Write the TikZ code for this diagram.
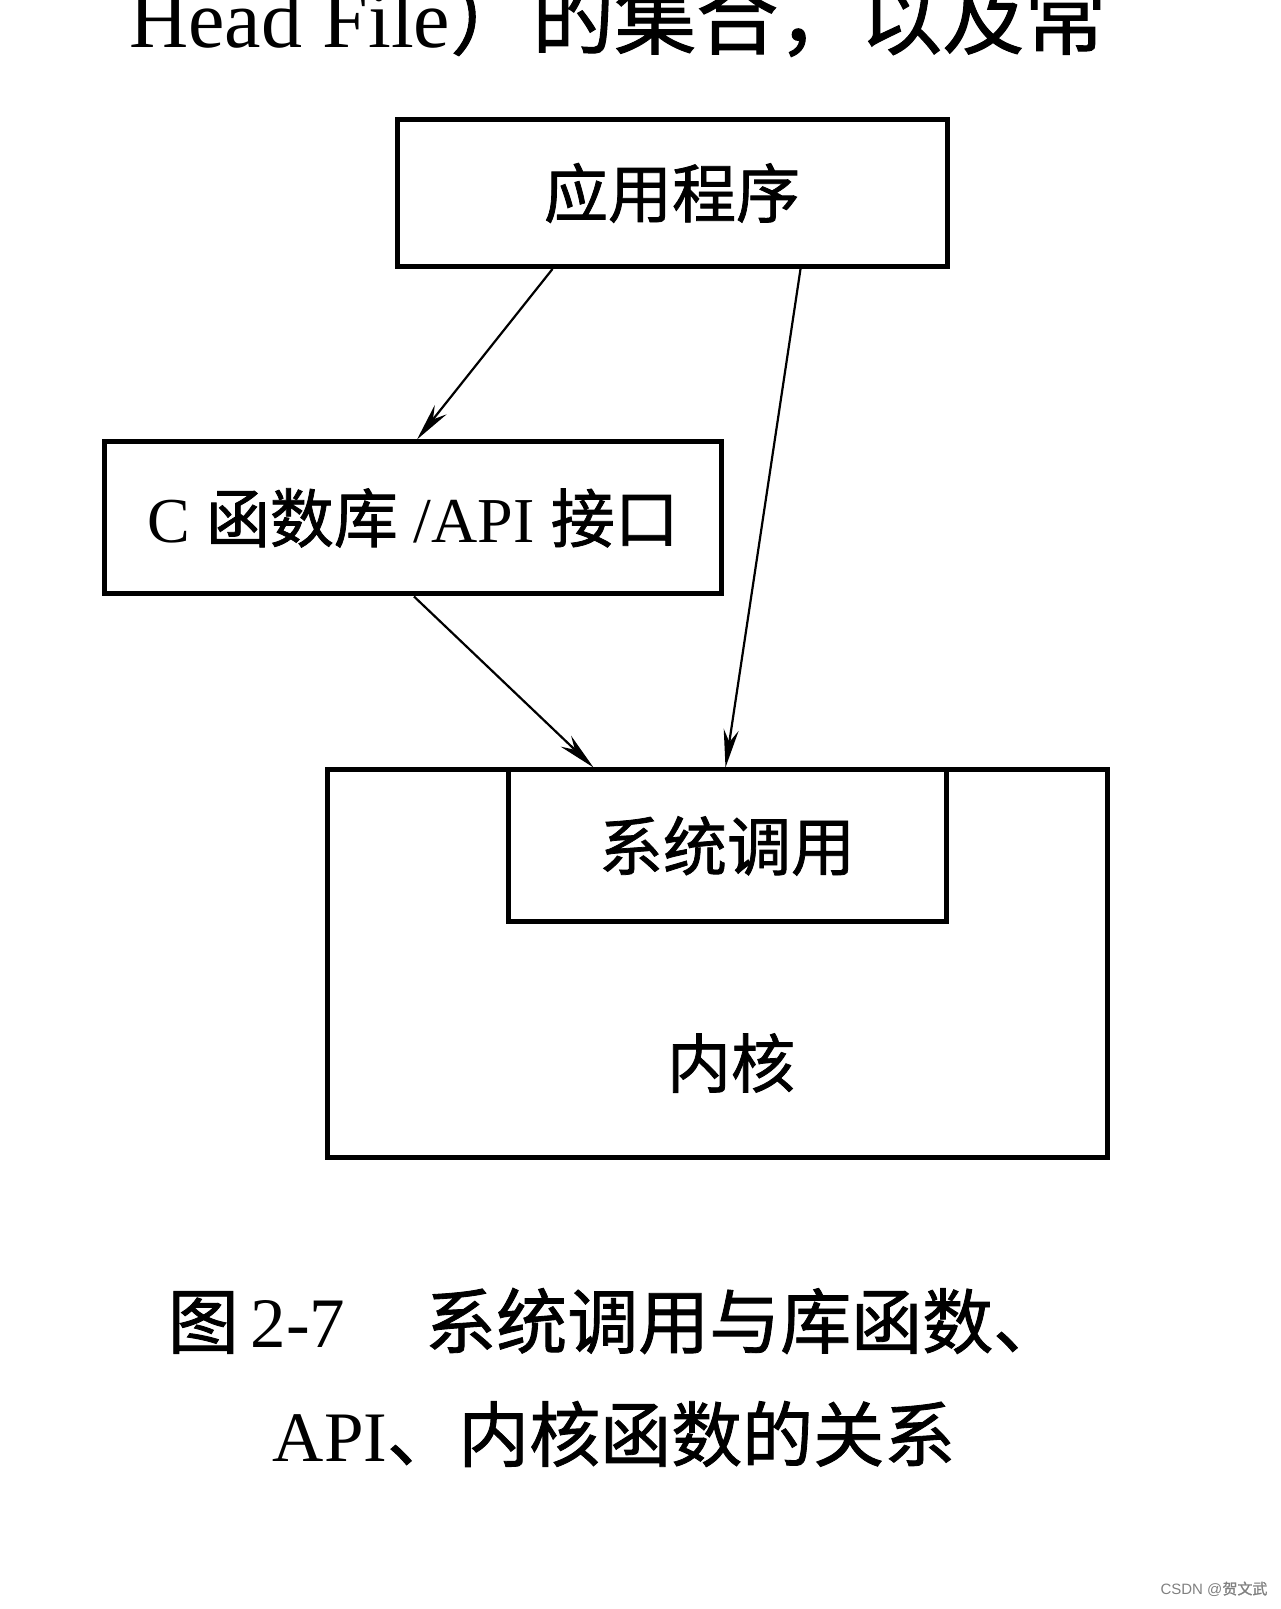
\documentclass[tikz,border=0pt]{standalone}
\usepackage{fontspec}
\setmainfont{Liberation Serif}
\newfontfamily\cjk{Noto Sans CJK SC}[FakeBold=1.2]
\newfontfamily\wmfont{Liberation Sans}
\usetikzlibrary{arrows.meta}

\begin{document}
\begin{tikzpicture}[x=1pt,y=1pt,
  box/.style={draw,line width=5pt,inner sep=0pt},
  arr/.style={-{Stealth[length=38pt,width=15pt]},line width=2.2pt},
  boxtext/.style={font=\fontsize{64}{64}\selectfont},
  captext/.style={font=\fontsize{71}{71}\selectfont}]
\useasboundingbox (0,0) rectangle (1280,1609);
\node (pagetext) at (129,1561) [anchor=base west,inner sep=0pt,font=\fontsize{82}{82}\selectfont] {Head File{\cjk ）的集合，以及常}};
\node (app) at (672,1416) [box,boxtext,minimum width=550,minimum height=147] {\cjk 应用程序};
\node (lib) at (413,1091) [box,boxtext,minimum width=617,minimum height=152] {C {\cjk 函数库} /API {\cjk 接口}};
\node (kernel) at (717,645) [box,minimum width=780,minimum height=388] {};
\node (syscall) at (727,763) [box,boxtext,minimum width=438,minimum height=152] {\cjk 系统调用};
\node (kerneltext) at (731,546) [boxtext] {\cjk 内核};
\draw[arr] ([xshift=158pt]app.south west) -- ([xshift=315pt]lib.north west);
\draw[arr] ([xshift=406pt]app.south west) -- ([xshift=401pt]kernel.north west);
\draw[arr] ([xshift=312pt]lib.south west) -- ([xshift=269pt]kernel.north west);
\node (caption1) at (616,288) [captext] {{\cjk 图}\,2-7\hspace{80pt}{\cjk 系统调用与库函数、}};
\node (caption2) at (614,175) [captext] {API{\cjk 、内核函数的关系}};
\node (mark) at (1214,20) [font=\wmfont\fontsize{15}{15}\selectfont,text=gray] {CSDN @{\cjk 贺文武}};
\end{tikzpicture}
\end{document}
